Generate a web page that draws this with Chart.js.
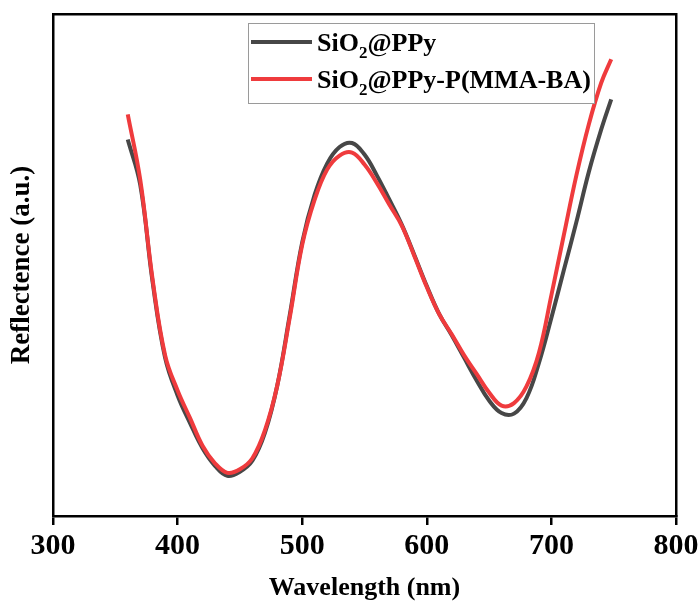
<!DOCTYPE html>
<html>
<head>
<meta charset="utf-8">
<script src="https://cdn.jsdelivr.net/npm/chart.js@4.4.0/dist/chart.umd.min.js"></script>
<style>
  html, body { margin: 0; background: #fff; }
  #chart { display: block; }
</style>
</head>
<body>
<canvas id="chart" width="699" height="605"></canvas>
<script>
// Reflectance spectra, arbitrary units (0-100 over the plot height)
const wavelength = [360, 370, 380, 390, 400, 410, 420, 430, 440, 450,
  460, 470, 480, 490, 500, 510, 520, 530, 540, 550,
  560, 570, 580, 590, 600, 610, 620, 630, 640, 650,
  660, 670, 680, 690, 700, 710, 720, 730, 740, 748];

const sio2Ppy = [75, 66, 46.5, 31.5, 24, 18.5, 13.5, 10, 8, 8.8,
  11, 16.5, 26, 40, 54.5, 64, 70.2, 73.5, 74.3, 72,
  67.8, 63, 58, 52, 45.8, 40.2, 36, 31.5, 27, 23,
  20.5, 20.4, 23.5, 30.5, 39.5, 49, 58.5, 68.5, 77, 83];

const sio2PpyPmmaBa = [80, 67, 47, 32, 25, 19.5, 14, 10.5, 8.6, 9.3,
  11.5, 17, 26, 39.5, 54, 63, 69, 71.8, 72.4, 70,
  66.3, 62, 57.8, 51.8, 45.6, 40.2, 36.2, 32, 28.3, 24.6,
  22, 22.5, 25.8, 32.5, 44, 56, 67.8, 78, 86.3, 91];

const xTicks = [300, 400, 500, 600, 700, 800];

const seriesNames = [['SiO', '2', '@PPy'], ['SiO', '2', '@PPy-P(MMA-BA)']];
const seriesColors = ['#474747', '#ef3b3d'];

const serif = '"Liberation Serif", "Times New Roman", serif';

const toPoints = (ys) => wavelength.map((x, i) => ({ x, y: ys[i] }));

// boxed legend with subscripted formula text
const formulaLegend = {
  id: 'formulaLegend',
  afterDraw(chart) {
    const ctx = chart.ctx;
    const box = { x: 248.5, y: 23.5, w: 346, h: 80 };
    ctx.save();
    ctx.fillStyle = '#fff';
    ctx.fillRect(box.x, box.y, box.w, box.h);
    ctx.strokeStyle = '#9a9a9a';
    ctx.lineWidth = 1;
    ctx.strokeRect(box.x, box.y, box.w, box.h);

    const rows = [42, 79];
    rows.forEach((rowY, i) => {
      ctx.strokeStyle = seriesColors[i];
      ctx.lineWidth = 4;
      ctx.beginPath();
      ctx.moveTo(251, rowY);
      ctx.lineTo(312, rowY);
      ctx.stroke();

      const [head, sub, tail] = seriesNames[i];
      const base = rowY + 9;
      let x = 317;
      ctx.fillStyle = '#000';
      ctx.textBaseline = 'alphabetic';
      ctx.font = 'bold 26px ' + serif;
      ctx.fillText(head, x, base);
      x += ctx.measureText(head).width;
      ctx.font = 'bold 17px ' + serif;
      ctx.fillText(sub, x, base + 7);
      x += ctx.measureText(sub).width;
      ctx.font = 'bold 26px ' + serif;
      ctx.fillText(tail, x, base);
    });
    ctx.restore();
  }
};

new Chart(document.getElementById('chart'), {
  type: 'line',
  data: {
    datasets: [
      {
        label: 'SiO2@PPy',
        data: toPoints(sio2Ppy),
        borderColor: seriesColors[0],
        borderWidth: 4,
        pointRadius: 0,
        tension: 0.4,
        order: 1
      },
      {
        label: 'SiO2@PPy-P(MMA-BA)',
        data: toPoints(sio2PpyPmmaBa),
        borderColor: seriesColors[1],
        borderWidth: 4,
        pointRadius: 0,
        tension: 0.4,
        order: 0
      }
    ]
  },
  options: {
    responsive: false,
    animation: false,
    layout: { padding: { top: 14, right: 23, left: 0, bottom: 0 } },
    plugins: {
      legend: { display: false },
      tooltip: { enabled: false }
    },
    scales: {
      x: {
        type: 'linear',
        position: 'bottom',
        min: 300,
        max: 800,
        afterBuildTicks: (axis) => { axis.ticks = xTicks.map((v) => ({ value: v })); },
        afterFit: (axis) => {
          axis.height = 89;
          axis.paddingLeft = 0;
          axis.paddingRight = 0;
        },
        grid: {
          display: true,
          drawOnChartArea: false,
          drawTicks: true,
          tickLength: 9,
          color: '#000',
          lineWidth: 2.5
        },
        border: { display: true, color: '#000', width: 2.5 },
        ticks: {
          color: '#000',
          padding: 3,
          maxRotation: 0,
          font: { family: serif, size: 30, weight: 'bold' }
        },
        title: {
          display: true,
          text: 'Wavelength (nm)',
          color: '#000',
          padding: { top: 0, bottom: 1.5 },
          font: { family: serif, size: 26, weight: 'bold' }
        }
      },
      xTop: {
        type: 'linear',
        position: 'top',
        min: 300,
        max: 800,
        afterFit: (axis) => { axis.height = 0; },
        grid: { display: false },
        ticks: { display: false },
        border: { display: true, color: '#000', width: 2.5 }
      },
      y: {
        type: 'linear',
        position: 'left',
        min: 0,
        max: 100,
        afterFit: (axis) => { axis.width = 53; },
        grid: { display: false },
        ticks: { display: false },
        border: { display: true, color: '#000', width: 2.5 },
        title: {
          display: true,
          text: 'Reflectence (a.u.)',
          color: '#000',
          padding: { top: 6, bottom: 0 },
          font: { family: serif, size: 27, weight: 'bold' }
        }
      },
      yRight: {
        type: 'linear',
        position: 'right',
        min: 0,
        max: 100,
        afterFit: (axis) => { axis.width = 0; },
        grid: { display: false },
        ticks: { display: false },
        border: { display: true, color: '#000', width: 2.5 }
      }
    }
  },
  plugins: [formulaLegend]
});
</script>
</body>
</html>
